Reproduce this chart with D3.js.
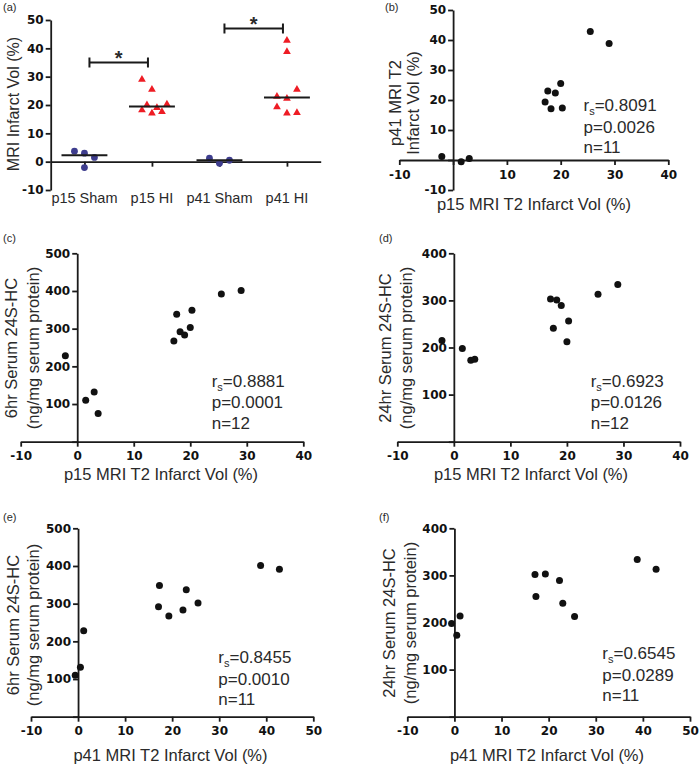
<!DOCTYPE html>
<html><head><meta charset="utf-8">
<script src="https://cdn.jsdelivr.net/npm/d3@7"></script>
<style>
body{margin:0;background:#fff;}
svg text{font-family:"Liberation Sans",Arial,sans-serif;fill:#2a2a2a;}
.tick text{font-family:"DejaVu Sans",sans-serif;font-weight:bold;font-size:12px;fill:#111 !important;}
.domain,.tick line{stroke:#1a1a1a;stroke-width:1.8px;}
</style></head><body>
<svg id="chart" width="700" height="767"></svg>
<script>
// ---------------- DATA ----------------
// Panel (a): MRI infarct volume by group
const groupLabels = ["p15 Sham", "p15 HI", "p41 Sham", "p41 HI"];
const p15ShamVol = [3.7, 3.0, 1.5, -2.1];
const p15HIVol = [29.0, 25.5, 18.2, 20.0, 17.1, 19.0, 17.6, 20.3];
const p41ShamVol = [1.2, -0.6, 0.5];
const p41HIVol = [42.8, 38.8, 25.5, 23.0, 22.3, 19.3, 17.1, 17.3];
// horizontal spread slots of the dot plot (as drawn in the figure)
const p15ShamSlots = [-2, 0, 2, 0];
const p15HISlots = [-2, 0, -2, -1, 0, 1, 2, 3];
const p41ShamSlots = [-2, 0, 2];
const p41HISlots = [0, 0, 2, -2, 0, -2, 0, 2];
const significance = [
  {from: "p15 Sham", to: "p15 HI", value: 35, label: "*"},
  {from: "p41 Sham", to: "p41 HI", value: 47, label: "*"}
];
const yTicksA = [-10, 0, 10, 20, 30, 40, 50];

// Panel (b): p15 vs p41 MRI infarct volume
const bP15Vol = [-2.1, 1.5, 3.0, 17.1, 17.6, 18.2, 19.0, 20.0, 20.3, 25.5, 29.0];
const bP41Vol = [1.2, -0.6, 0.5, 19.3, 23.0, 17.1, 22.3, 25.5, 17.3, 42.8, 38.8];

// Panels (c),(d): p15 MRI volume vs serum 24S-HC
const p15Vol = [-2.1, 1.5, 3.0, 3.7, 17.1, 17.6, 18.2, 19.0, 20.0, 20.3, 25.5, 29.0];
const serum6hP15 = [228, 110, 132, 75, 267, 338, 292, 283, 303, 349, 392, 401];
const serum24hP15 = [215, 198, 173, 175, 303, 241, 301, 289, 212, 256, 313, 334];

// Panels (e),(f): p41 MRI volume vs serum 24S-HC
const p41Vol = [-0.6, 0.5, 1.2, 17.1, 17.3, 19.3, 22.3, 23.0, 25.5, 38.8, 42.8];
const serum6hP41 = [110, 131, 228, 292, 348, 267, 283, 337, 302, 401, 391];
const serum24hP41 = [198, 173, 214, 302, 255, 303, 289, 241, 213, 334, 313];

// Spearman statistics shown in panels b..f
const statR = ["0.8091", "0.8881", "0.6923", "0.8455", "0.6545"];
const statP = ["0.0026", "0.0001", "0.0126", "0.0010", "0.0289"];
const statN = ["11", "12", "12", "11", "11"];

const xTicks40 = [-10, 0, 10, 20, 30, 40];
const xTicks50 = [-10, 0, 10, 20, 30, 40, 50];
const yTicks500 = [0, 100, 200, 300, 400, 500];
const yTicks400 = [0, 100, 200, 300, 400];
const yTicksB = [-10, 0, 10, 20, 30, 40, 50];

const xTitleP15 = "p15 MRI T2 Infarct Vol (%)";
const xTitleP41 = "p41 MRI T2 Infarct Vol (%)";

// ---------------- DRAW ----------------
const svg = d3.select("#chart");
const AX = "#1a1a1a";

function panelLabel(txt, x, y) {
  svg.append("text").attr("x", x).attr("y", y).attr("font-size", 11).text(txt);
}

// ---- Panel (a) ----
(function () {
  const x = d3.scalePoint().domain(groupLabels).range([50.7, 320.7]).padding(0.5);
  const y = d3.scaleLinear().domain([-10, 50]).range([190, 20]);
  const g = svg.append("g");
  g.append("g").attr("transform", `translate(0,${y(0)})`)
    .call(d3.axisBottom(x).tickSize(5).tickSizeOuter(0).tickFormat(""));
  g.append("g").attr("transform", `translate(${x.range()[0]},0)`)
    .call(d3.axisLeft(y).tickValues(yTicksA).tickSize(5).tickSizeOuter(0).tickPadding(2).tickFormat(d => d));

  const step = x.step();
  const groups = [
    {name: "p15 Sham", vals: p15ShamVol, slots: p15ShamSlots, shape: "circle"},
    {name: "p15 HI", vals: p15HIVol, slots: p15HISlots, shape: "triangle"},
    {name: "p41 Sham", vals: p41ShamVol, slots: p41ShamSlots, shape: "circle"},
    {name: "p41 HI", vals: p41HIVol, slots: p41HISlots, shape: "triangle"}
  ];
  const tri = d3.symbol().type(d3.symbolTriangle).size(26);
  groups.forEach(gr => {
    const pts = gr.vals.map((v, i) => ({v, s: gr.slots[i]}));
    if (gr.shape === "circle") {
      g.selectAll(null).data(pts).enter().append("circle")
        .attr("cx", d => x(gr.name) + d.s * step * 0.074)
        .attr("cy", d => y(d.v)).attr("r", 3.4).attr("fill", "#3e3d8e");
    } else {
      g.selectAll(null).data(pts).enter().append("path")
        .attr("d", tri)
        .attr("transform", d => `translate(${x(gr.name) + d.s * step * 0.074},${y(d.v)})`)
        .attr("fill", "#ee1c24");
    }
    const med = d3.median(gr.vals);
    g.append("line").attr("x1", x(gr.name) - step * 0.34).attr("x2", x(gr.name) + step * 0.34)
      .attr("y1", y(med)).attr("y2", y(med)).attr("stroke", AX).attr("stroke-width", 2);
  });
  // significance brackets
  significance.forEach(s => {
    const x1 = x(s.from) + 5, x2 = x(s.to) - 4, yy = y(s.value);
    g.append("line").attr("x1", x1).attr("x2", x2).attr("y1", yy).attr("y2", yy).attr("stroke", AX).attr("stroke-width", 2);
    [x1, x2].forEach(xx => g.append("line").attr("x1", xx).attr("x2", xx).attr("y1", yy - 5).attr("y2", yy + 5).attr("stroke", AX).attr("stroke-width", 2));
    g.append("text").attr("x", (x1 + x2) / 2).attr("y", yy + 2).attr("text-anchor", "middle")
      .attr("font-size", 20).attr("font-weight", "bold").text(s.label);
  });
  // category labels
  g.selectAll(null).data(groupLabels).enter().append("text")
    .attr("x", d => x(d)).attr("y", 198.3).attr("dy", "0.35em").attr("text-anchor", "middle")
    .attr("font-size", 14.5).text(d => d);
  g.append("text").attr("transform", `translate(13.3,104) rotate(-90)`).attr("dy", "0.35em")
    .attr("text-anchor", "middle").attr("font-size", 16).text("MRI Infarct Vol (%)");
  panelLabel("(a)", 3, 11);
})();

// ---- Scatter panels ----
function scatterPanel(cfg) {
  const x = d3.scaleLinear().domain(cfg.xDomain).range(cfg.xRange);
  const y = d3.scaleLinear().domain(cfg.yDomain).range(cfg.yRange);
  const g = svg.append("g");
  g.append("g").attr("transform", `translate(0,${y(0)})`)
    .call(d3.axisBottom(x).tickValues(cfg.xTicks).tickSize(5).tickSizeOuter(0).tickPadding(5)
      .tickFormat(d => (cfg.hideX0 && d === 0) ? "" : d));
  g.append("g").attr("transform", `translate(${x(0)},0)`)
    .call(d3.axisLeft(y).tickValues(cfg.yTicks).tickSize(5).tickSizeOuter(0).tickPadding(2)
      .tickFormat(d => d === 0 ? "" : d));
  const pts = cfg.xs.map((v, i) => [v, cfg.ys[i]]);
  g.selectAll(null).data(pts).enter().append("circle")
    .attr("cx", d => x(d[0])).attr("cy", d => y(d[1])).attr("r", 3.5).attr("fill", "#111");
  // stats
  const st = g.append("text").attr("x", cfg.statX).attr("y", cfg.statY).attr("font-size", 17);
  st.append("tspan").text("r");
  st.append("tspan").attr("font-size", 11).attr("dy", 4).text("s");
  st.append("tspan").attr("dy", -4).text("=" + statR[cfg.idx]);
  g.append("text").attr("x", cfg.statX).attr("y", cfg.statY + 21.5).attr("font-size", 17).text("p=" + statP[cfg.idx]);
  g.append("text").attr("x", cfg.statX).attr("y", cfg.statY + 42).attr("font-size", 17).text("n=" + statN[cfg.idx]);
  // titles
  g.append("text").attr("x", cfg.xTitleX).attr("y", cfg.xTitleY).attr("dy", "0.35em")
    .attr("text-anchor", "middle").attr("font-size", 16.5).text(cfg.xTitle);
  cfg.yTitle.forEach((t, i) => {
    g.append("text").attr("transform", `translate(${cfg.yTitleX[i]},${cfg.yTitleY}) rotate(-90)`)
      .attr("dy", "0.35em").attr("text-anchor", "middle").attr("font-size", 16.5).text(t);
  });
  panelLabel(cfg.label, cfg.labelX, cfg.labelY);
}

scatterPanel({idx: 0, label: "(b)", labelX: 385, labelY: 11,
  xs: bP15Vol, ys: bP41Vol, xDomain: [-10, 40], xRange: [399.3, 668.3], yDomain: [-10, 50], yRange: [190, 10],
  xTicks: xTicks40, yTicks: yTicksB, hideX0: true,
  statX: 583.5, statY: 111, xTitle: xTitleP15, xTitleX: 534, xTitleY: 204.5,
  yTitle: ["p41 MRI T2", "Infarct Vol (%)"], yTitleX: [395, 413.5], yTitleY: 103});

scatterPanel({idx: 1, label: "(c)", labelX: 3, labelY: 242,
  xs: p15Vol, ys: serum6hP15, xDomain: [-10, 40], xRange: [20.7, 303.3], yDomain: [0, 500], yRange: [441.7, 253.3],
  xTicks: xTicks40, yTicks: yTicks500, hideX0: false,
  statX: 211.7, statY: 386.7, xTitle: xTitleP15, xTitleX: 161, xTitleY: 474,
  yTitle: ["6hr Serum 24S-HC", "(ng/mg serum protein)"], yTitleX: [11.7, 33], yTitleY: 348});

scatterPanel({idx: 2, label: "(d)", labelX: 379, labelY: 242,
  xs: p15Vol, ys: serum24hP15, xDomain: [-10, 40], xRange: [397.3, 680], yDomain: [0, 400], yRange: [441.7, 253.3],
  xTicks: xTicks40, yTicks: yTicks400, hideX0: false,
  statX: 590.7, statY: 386.7, xTitle: xTitleP15, xTitleX: 531, xTitleY: 474,
  yTitle: ["24hr Serum 24S-HC", "(ng/mg serum protein)"], yTitleX: [385, 406.5], yTitleY: 348});

scatterPanel({idx: 3, label: "(e)", labelX: 3, labelY: 521,
  xs: p41Vol, ys: serum6hP41, xDomain: [-10, 50], xRange: [31, 313.3], yDomain: [0, 500], yRange: [716.7, 528.3],
  xTicks: xTicks50, yTicks: yTicks500, hideX0: false,
  statX: 218.3, statY: 663.3, xTitle: xTitleP41, xTitleX: 170.5, xTitleY: 755.7,
  yTitle: ["6hr Serum 24S-HC", "(ng/mg serum protein)"], yTitleX: [13.3, 33.3], yTitleY: 625});

scatterPanel({idx: 4, label: "(f)", labelX: 379, labelY: 521,
  xs: p41Vol, ys: serum24hP41, xDomain: [-10, 50], xRange: [407.3, 690], yDomain: [0, 400], yRange: [716.7, 528.3],
  xTicks: xTicks50, yTicks: yTicks400, hideX0: false,
  statX: 602.3, statY: 659.3, xTitle: xTitleP41, xTitleX: 547, xTitleY: 755.7,
  yTitle: ["24hr Serum 24S-HC", "(ng/mg serum protein)"], yTitleX: [389.3, 410], yTitleY: 623});
</script>
</body></html>
